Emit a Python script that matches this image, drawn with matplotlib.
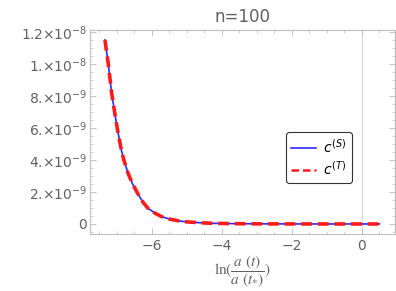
import numpy as np
import matplotlib.pyplot as plt
from matplotlib.ticker import MultipleLocator

# values (y in units of 1e-9)
x_vals = [-7.34, -7.25, -7.15, -7.05, -6.99, -6.87, -6.8, -6.68, -6.55, -6.39, -6.25,
          -6.11, -5.9, -5.72, -5.5, -5.25, -5.0, -4.58, -4.3, -4.0, -3.5, -3.0,
          -2.0, -1.0, 0.0, 0.5]
y_vals = [11.5, 10.1, 8.2, 6.8, 6.0, 4.6, 4.0, 3.17, 2.5, 1.85, 1.35,
          0.98, 0.66, 0.46, 0.31, 0.2, 0.13, 0.07, 0.045, 0.03, 0.015, 0.008,
          0.002, 0.0, 0.0, 0.0]
yticks = [0, 2, 4, 6, 8, 10, 12]
ytick_labels = ['0', r'2.$\times$10$^{-9}$', r'4.$\times$10$^{-9}$', r'6.$\times$10$^{-9}$',
                r'8.$\times$10$^{-9}$', r'1.$\times$10$^{-8}$', r'1.2$\times$10$^{-8}$']
xticks = [-6, -4, -2, 0]

x = np.array(x_vals)
y = np.array(y_vals) * 1e-9

plt.rcParams['mathtext.fontset'] = 'dejavusans'
gray = '#606060'

fig = plt.figure(figsize=(3.96, 2.91), dpi=100)
ax = fig.add_axes([0.227, 0.196, 0.770, 0.701])

ax.axvline(0, color='#d8d8d8', lw=0.8, zorder=0)
ax.plot(x, y, color='#2a2aff', lw=1.2, label=r'$c^{(S)}$')
ax.plot(x, y, color='#ff1a1a', lw=2.6, dashes=(3.0, 1.6), label=r'$c^{(T)}$')

ax.set_xlim(-7.77, 0.94)
ax.set_ylim(-0.625e-9, 12.125e-9)
ax.set_xticks(xticks)
ax.set_xticklabels(['\u22126', '\u22124', '\u22122', '0'])
ax.set_yticks([v * 1e-9 for v in yticks])
ax.set_yticklabels(ytick_labels)
ax.xaxis.set_minor_locator(MultipleLocator(0.5))
ax.yaxis.set_minor_locator(MultipleLocator(0.5e-9))

for s in ax.spines.values():
    s.set_color('#bdbdbd')
    s.set_linewidth(0.8)
ax.tick_params(which='both', direction='in', color='#bdbdbd', top=True, right=True,
               labelcolor=gray, labelsize=10)
ax.tick_params(which='major', length=4, width=0.6)
ax.tick_params(which='minor', length=2, width=0.5)
ax.tick_params(axis='y', pad=2)

ax.set_title('n=100', color=gray, fontsize=12, pad=6)
ax.set_xlabel(r'$\mathrm{ln}(\dfrac{a\ (t)}{a\ (t_{*})})$', color=gray, fontsize=11,
              math_fontfamily='stix', labelpad=1)

leg = ax.legend(loc='center', bbox_to_anchor=(0.751, 0.375), fontsize=10,
                handlelength=1.8, handletextpad=0.5, borderpad=0.4, labelspacing=0.3,
                fancybox=True, framealpha=1)
leg.get_frame().set_edgecolor('#333333')
leg.get_frame().set_linewidth(0.8)
leg.get_lines()[1].set_linewidth(1.8)

fig.savefig('out.png', dpi=100)
